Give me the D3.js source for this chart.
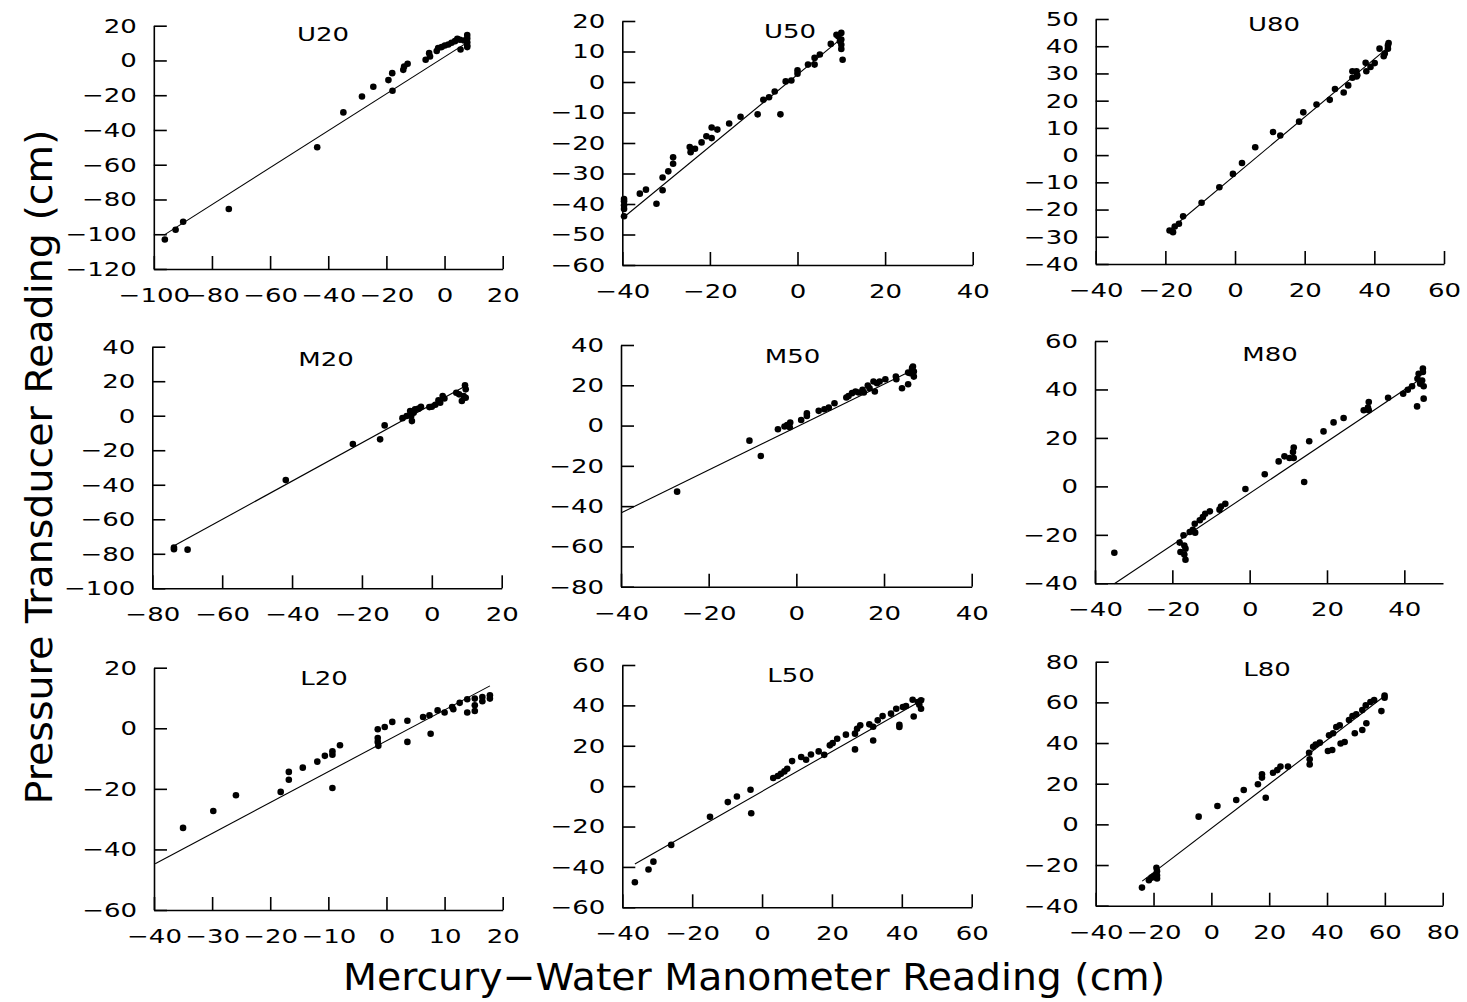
<!DOCTYPE html>
<html><head><meta charset="utf-8">
<script src="https://cdn.jsdelivr.net/npm/d3@7"></script>
<style>body{margin:0;background:#fff} svg{display:block}</style>
</head><body>
<svg id="c" width="1467" height="1002"></svg>
<script>
// ---------- data ----------
const panelNames = ["U20","U50","U80","M20","M50","M80","L20","L50","L80"];
const xDomains = [[-100,20],[-40,40],[-40,60],[-80,20],[-40,40],[-40,50],[-40,20],[-40,60],[-40,80]];
const yDomains = [[-120,20],[-60,20],[-40,50],[-100,40],[-80,40],[-40,60],[-60,20],[-60,60],[-40,80]];
const xTickValues = [
  [-100,-80,-60,-40,-20,0,20],[-40,-20,0,20,40],[-40,-20,0,20,40,60],
  [-80,-60,-40,-20,0,20],[-40,-20,0,20,40],[-40,-20,0,20,40],
  [-40,-30,-20,-10,0,10,20],[-40,-20,0,20,40,60],[-40,-20,0,20,40,60,80]];
const yTickValues = [
  [-120,-100,-80,-60,-40,-20,0,20],[-60,-50,-40,-30,-20,-10,0,10,20],[-40,-30,-20,-10,0,10,20,30,40,50],
  [-100,-80,-60,-40,-20,0,20,40],[-80,-60,-40,-20,0,20,40],[-40,-20,0,20,40,60],
  [-60,-40,-20,0,20],[-60,-40,-20,0,20,40,60],[-40,-20,0,20,40,60,80]];

const ptsU20 = [[-96.2,-103],[-92.5,-97.4],[-89.9,-92.8],[-74.2,-85.5],[-43.8,-49.9],[-34.8,-29.9],[-28.4,-20.7],
  [-24.5,-15.1],[-19.3,-11.3],[-18,-7.3],[-17.9,-17.4],[-14.2,-5.4],[-13.9,-3.5],[-12.7,-1.9],[-6.5,0.4],[-5.3,4.2],
  [-5,2.3],[-2.7,5.4],[-2.2,7.1],[-1,7.7],[0.1,8.6],[1.3,9.2],[2.4,10.2],[3.6,11.1],[4.4,12.5],[5.3,11.9],[5.5,6.3],
  [6.7,11.5],[7.8,14.6],[7.8,12.7],[7.8,10.5],[7.8,8.6],[7.8,7.7]];
const ptsU50 = [[-39.6,-38.4],[-39.6,-39.1],[-39.6,-40.4],[-39.6,-41.6],[-39.6,-44],[-36,-36.6],[-34.6,-35.3],
  [-32.2,-39.9],[-30.8,-35.5],[-30.8,-31.3],[-29.5,-29.3],[-28.4,-26.8],[-28.4,-24.7],[-24.6,-21.3],[-24.4,-23],
  [-23.4,-21.9],[-21.9,-19.8],[-20.8,-17.8],[-19.6,-18.4],[-19.6,-14.9],[-18.3,-15.6],[-15.6,-13.6],[-13,-11.4],
  [-9.1,-10.6],[-7.8,-5.8],[-6.5,-5],[-5.2,-3.1],[-3.9,-10.6],[-2.7,0.2],[-1.4,0.5],[0,2.7],[0,3.8],[2.4,5.7],
  [3.9,5.7],[3.9,7.9],[5.1,9],[7.6,12.5],[8.9,15.5],[9.3,15],[10,16.1],[10,13.9],[10,12.2],[10,10.8],[10.3,7.3],[9.7,13.4]];
const ptsU80 = [[-18.8,-27.7],[-17.8,-28.3],[-17.3,-26.2],[-16.1,-25.2],[-14.9,-22.5],[-9.6,-17.5],[-4.5,-11.8],
  [-0.6,-6.9],[2,-2.9],[5.8,2.9],[10.9,8.5],[13,7.2],[18.4,12.3],[19.6,15.7],[23.4,18.6],[27.2,20.3],[28.7,24.3],
  [31.2,23],[32.5,25.6],[33.7,28.4],[33.7,30.8],[34.9,28.9],[34.9,30.8],[35.1,29.3],[37.5,33.9],[37.7,30.8],
  [38.9,32.4],[40.1,33.8],[41.5,39.1],[42.7,36.3],[43,37.3],[43.9,39.1],[44.1,41.2],[43.9,40.3]];
const ptsM20 = [[-73.8,-77.4],[-73.8,-76.4],[-69.9,-77.6],[-41.8,-37.3],[-22.6,-16.4],[-14.8,-13.7],[-13.5,-5.6],
  [-8.4,-1.4],[-7.2,-0.2],[-6.2,2.7],[-5.9,-0.2],[-5.7,-3.1],[-5.2,1.7],[-4.8,3.7],[-3.8,4.1],[-3.1,5.2],[-0.7,5],
  [0,5.2],[1,6.4],[1.9,8.9],[2.4,7.5],[3.1,11.4],[3.6,10],[7,13.3],[7.8,12.4],[8.6,8.5],[9.1,11.4],[9.5,17.6],
  [9.7,15.3],[9.7,10.4]];
const ptsM50 = [[-27.2,-32.8],[-10.7,-7.5],[-8.1,-15.1],[-4.2,-1.8],[-2.7,-0.5],[-2.1,0.3],[-1.5,-0.8],[-1.4,1.5],
  [1.1,2.8],[2.4,6.1],[2.4,4.8],[5.1,7.3],[6.4,8.1],[7.4,8.9],[8.7,11.1],[11.4,13.9],[11.9,14.7],[12.7,16.1],
  [13.5,16.9],[14.2,16.4],[15.1,17.7],[15.4,16.4],[16.3,19.9],[16.7,18.5],[17.6,21.9],[17.9,16.9],[18.4,21],
  [19,21.9],[20.3,23],[22.7,24.3],[22.8,23],[24.1,18.5],[25.5,20.5],[25.5,26.3],[26.4,28.5],[26.6,29.3],
  [26.8,24.3],[26.8,26.8],[26,26]];
const ptsM80 = [[-35,-27.4],[-18.1,-23.2],[-17.9,-27.1],[-17.1,-20.2],[-16.9,-24.4],[-16.9,-28.1],[-16.6,-30.3],
  [-16.6,-25.7],[-15.5,-18.8],[-14.7,-17.9],[-14.2,-15.4],[-14.1,-19.1],[-12.9,-14],[-12.1,-12.7],[-11.5,-11.3],
  [-10.3,-10.3],[-7.8,-9.6],[-7.4,-8.3],[-6.3,-7.2],[-1.1,-1.1],[3.9,5],[7.5,10.3],[9,12.4],[10.3,11.7],[11.2,14.2],
  [11.4,16],[11.4,11.7],[14.1,1.8],[15.4,18.6],[19.1,22.7],[21.7,26.4],[24.3,28.2],[29.5,31.4],[30.6,32.5],
  [30.8,34.8],[30.8,31.4],[35.8,36.6],[39.7,38.2],[40.9,39.9],[42,41.3],[43.3,33],[43.4,44.4],[43.7,46.5],
  [44.6,43.7],[44.8,47.2],[44.8,48.6],[45,41.3],[45,36.2],[44.1,42.4]];
const ptsL20 = [[-35,-32.9],[-29.8,-27.3],[-25.9,-22.1],[-18.2,-21],[-16.8,-14.4],[-16.8,-17],[-14.4,-13],
  [-11.9,-11],[-10.6,-9.1],[-9.3,-7.6],[-9.3,-8.7],[-9.3,-19.7],[-8,-5.6],[-1.5,-0.3],[-1.5,-3.2],[-1.5,-4.5],
  [-1.4,-5.8],[-0.3,0.4],[1,2.1],[3.6,2.5],[3.6,-4.5],[6.3,3.7],[7.4,4.3],[7.6,-1.8],[8.8,5.9],[10,5.2],[11.3,7],
  [11.5,6.3],[12.6,8.4],[13.9,9.6],[13.9,5.2],[15.2,9.8],[15.2,5.7],[15.2,7.6],[16.5,8.9],[16.5,10.3],[17.8,9.8],[17.8,10.9]];
const ptsL50 = [[-36.4,-47.6],[-32.5,-41.3],[-31.1,-37.4],[-26,-29.1],[-14.9,-15.2],[-9.8,-7.9],[-7.2,-5.1],
  [-3.3,-1.8],[-3.1,-13.4],[3.2,4],[4.5,5],[5.4,6.1],[6.4,7.3],[7.2,8.6],[8.6,12.4],[11.2,14.4],[12.6,13.1],
  [14,15.7],[16.2,17.2],[17.8,15.5],[19.4,20.2],[20.2,21.3],[21.5,23.5],[24,25.5],[26.6,18.2],[26.6,26],
  [27.2,28.4],[28.1,30.1],[30.7,30.6],[31.8,22.6],[31.8,29.4],[33.1,32.6],[34.5,34.7],[36.9,35.9],[38.4,38.3],
  [39.3,30.4],[39.3,29.3],[40.3,39.2],[41.2,39.7],[43.1,42.8],[43.4,34.5],[45,40.3],[45.5,38.3],[45.5,42.5],[44.6,41.7]];
const ptsL80 = [[-24,-31.1],[-21.6,-27.5],[-20.7,-26.2],[-19.8,-25.4],[-19,-21.3],[-18.8,-23],[-18.8,-26.6],
  [-18.8,-25.1],[-4.4,3.8],[2.1,9],[8.6,12],[11.2,16.9],[16.1,19.7],[17.5,23],[17.5,24.6],[18.8,13.1],[21.3,25.4],
  [22.8,26.7],[23.9,28.4],[26.5,28.4],[33.8,35.2],[34,32],[34,29.5],[35.2,38.2],[36.1,39.3],[37.5,40.2],[40.3,36.1],
  [40.7,43.8],[41.8,36.6],[42.1,44.8],[43.2,47.9],[44.4,48.7],[44.7,39.8],[46.1,40.5],[47.6,51.3],[48.8,53.3],
  [49.6,44.8],[52.2,56.2],[52.2,46.4],[53.4,58.5],[53.6,49.7],[55,60.2],[56.3,61.1],[58.8,55.7],[59.9,62.3],
  [59.9,63.4],[50.1,54.1]];
const allPoints = [ptsU20, ptsU50, ptsU80, ptsM20, ptsM50, ptsM80, ptsL20, ptsL50, ptsL80];

// regression lines: [intercept, slope, xStart, xEnd]
const fitLines = [[2.03,1.0625,-96.5,8],[2.45,1.18,-39.8,9.7],[-7.4,1.068,-19,44],[6.5,1.11,-73.5,9.5],
  [-0.76,1.066,-39.8,26.6],[-2.87,1.067,-35,44.3],[-4.14,1.019,-39.8,17.8],[-2.6,0.987,-36.4,46.5],[-1.95,1.086,-23.9,59.9]];

const yAxisTitle = "Pressure Transducer Reading (cm)";
const xAxisTitle = "Mercury\u2212Water Manometer Reading (cm)";

// ---------- layout (pixels) ----------
// [left, right, top, bottom, titleX, titleY]
const frames = [
  [153.8,502.7,25.7,269, 323,34],[622.3,972.7,21,265, 790,31],[1095.7,1444,19,264, 1274,24],
  [152.3,501.7,346.7,588.3, 326,359],[621,971.7,345,586.7, 792.5,356],[1095,1443,341,583.3, 1270,354],
  [154,502.7,667.7,910, 324,678],[622.3,971.7,665,907.3, 791,675],[1095.7,1442.7,661.7,905.7, 1267,669]];

const FONT = "'DejaVu Sans', sans-serif";
const SX = 1.3;
const svg = d3.select("#c");
svg.append("rect").attr("width",1467).attr("height",1002).attr("fill","#fff");
const fmt = d3.format("d");

panelNames.forEach((name,i) => {
  const [l,r,t,b,tx,ty] = frames[i];
  const x = d3.scaleLinear().domain(xDomains[i]).range([l,r]);
  const y = d3.scaleLinear().domain(yDomains[i]).range([b,t]);
  const g = svg.append("g");

  const ax = g.append("g").attr("transform",`translate(0,${b})`)
    .call(d3.axisBottom(x).tickValues(xTickValues[i]).tickFormat(fmt).tickSize(-13).tickSizeOuter(0).tickPadding(19));
  const ay = g.append("g").attr("transform",`translate(${l},0)`)
    .call(d3.axisLeft(y).tickValues(yTickValues[i]).tickFormat(fmt).tickSize(-13).tickSizeOuter(0).tickPadding(17));
  [ax,ay].forEach(a => {
    a.selectAll("path,line").attr("stroke","#000").attr("stroke-width",1.6);
    a.selectAll("text").attr("fill","#000").style("font-family",FONT).style("font-size","20px")
      .attr("transform",`scale(${SX},1)`);
  });
  ay.selectAll("text").attr("x", -17/SX);

  // title
  g.append("text").attr("transform",`translate(${tx},${ty}) scale(${SX},1)`)
    .attr("text-anchor","middle").attr("dy","0.36em")
    .style("font-family",FONT).style("font-size","20px").attr("fill","#000").text(name);

  // fit line
  const [a0,s0,xa,xb] = fitLines[i];
  g.append("line").attr("x1",x(xa)).attr("y1",y(a0+s0*xa)).attr("x2",x(xb)).attr("y2",y(a0+s0*xb))
    .attr("stroke","#000").attr("stroke-width",1.1);

  // points
  g.selectAll("circle.p").data(allPoints[i]).join("circle").attr("class","p")
    .attr("cx",d=>x(d[0])).attr("cy",d=>y(d[1])).attr("r",3.3).attr("fill","#000");
});

// axis titles
svg.append("text").attr("transform","translate(52,467) rotate(-90)").attr("text-anchor","middle")
  .attr("textLength",675).attr("lengthAdjust","spacingAndGlyphs")
  .style("font-family",FONT).style("font-size","38px").attr("fill","#000").text(yAxisTitle);
svg.append("text").attr("x",754).attr("y",990).attr("text-anchor","middle")
  .attr("textLength",822).attr("lengthAdjust","spacingAndGlyphs")
  .style("font-family",FONT).style("font-size","38px").attr("fill","#000").text(xAxisTitle);
</script>
</body></html>
